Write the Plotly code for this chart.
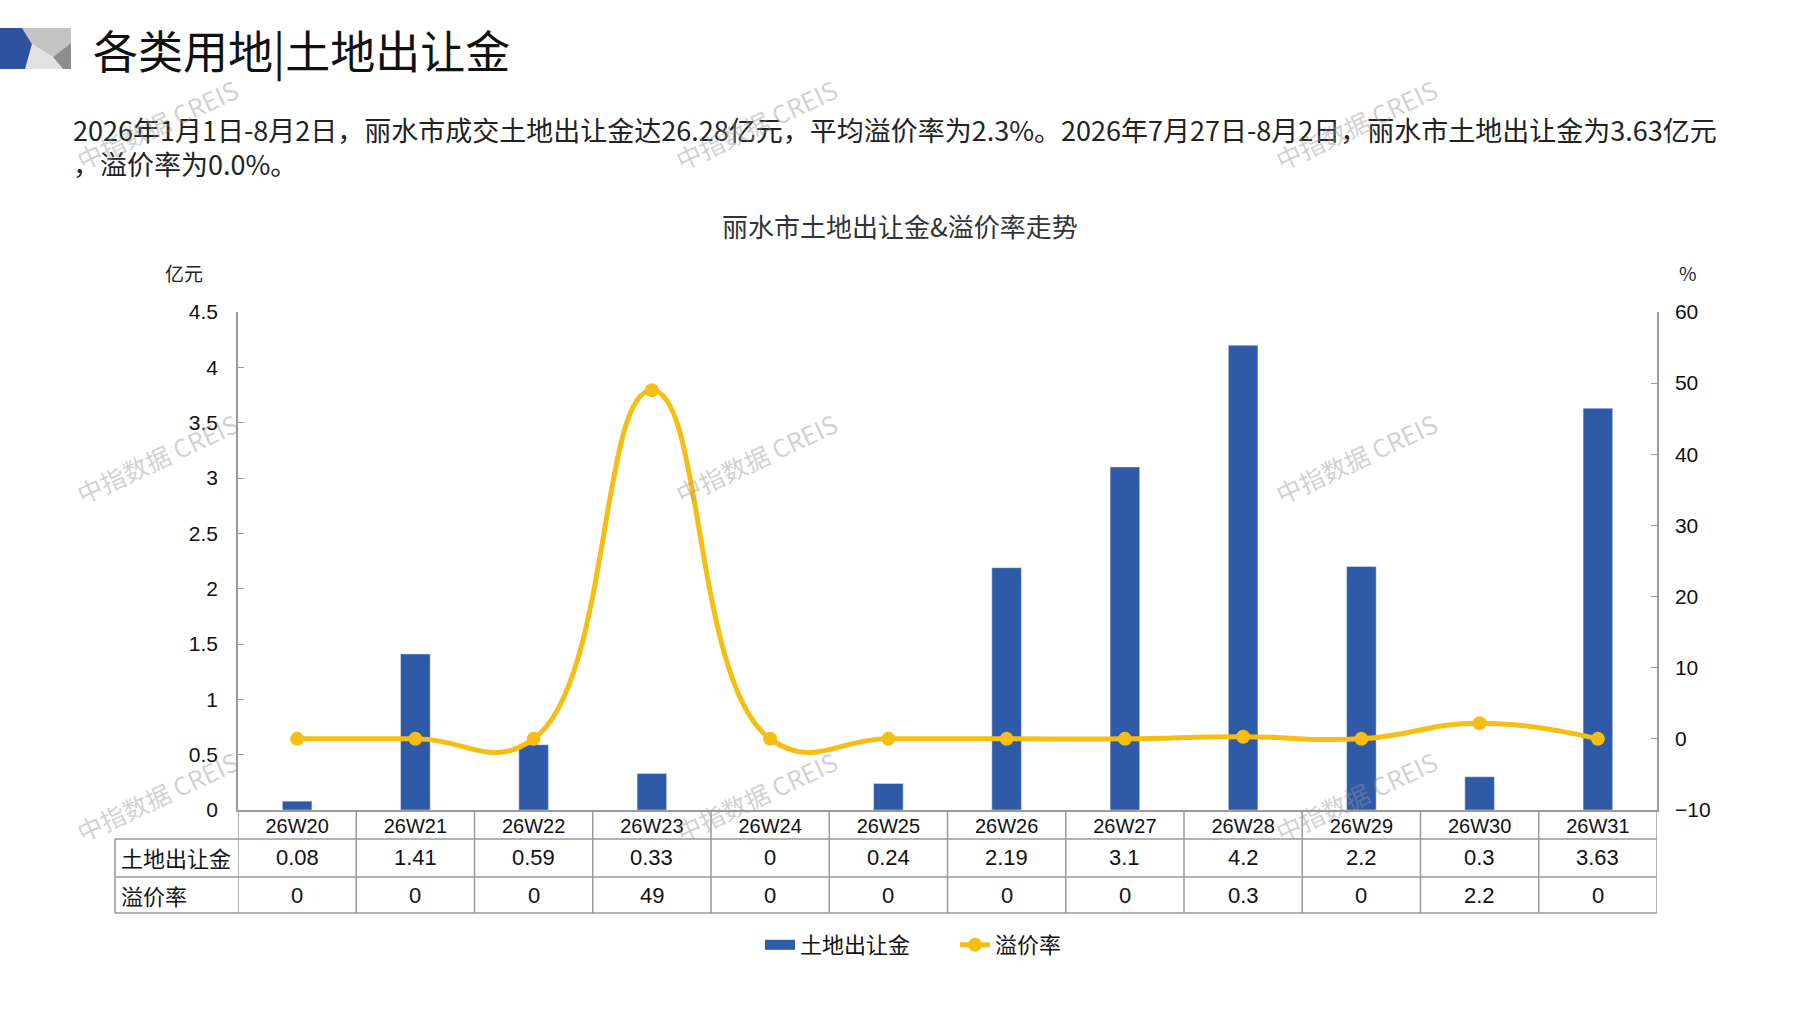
import plotly.graph_objects as go

# data
weeks = ['26W20', '26W21', '26W22', '26W23', '26W24', '26W25',
         '26W26', '26W27', '26W28', '26W29', '26W30', '26W31']
land_fee = [0.08, 1.41, 0.59, 0.33, 0, 0.24, 2.19, 3.1, 4.2, 2.2, 0.3, 3.63]
premium_rate = [0, 0, 0, 49, 0, 0, 0, 0, 0.3, 0, 2.2, 0]
fee_label = '土地出让金'
rate_label = '溢价率'

page_title = '各类用地|土地出让金'
summary_lines = ['2026年1月1日-8月2日，丽水市成交土地出让金达26.28亿元，平均溢价率为2.3%。'
                 '2026年7月27日-8月2日，丽水市土地出让金为3.63亿元',
                 '，溢价率为0.0%。']
chart_title = '丽水市土地出让金&溢价率走势'
watermark = '中指数据 CREIS'

BLUE = '#2E5AA8'
GOLD = '#F6BE12'
GRID = '#9A9A9A'
CJK = 'Noto Sans CJK SC'
NUM = 'Liberation Sans'

W, H = 1797, 1010
L, R, T, B = 238, 1657, 312, 810     # plot area in reference pixels


def px(x, y):
    """reference pixel position -> paper coords"""
    return (x - L) / (R - L), (B - y) / (B - T)


fig = go.Figure()

fig.add_trace(go.Bar(
    x=weeks, y=land_fee, name=fee_label, showlegend=False,
    marker=dict(color=BLUE), width=0.25, yaxis='y'
))
# legend-only entry so the key looks like a wide bar
fig.add_trace(go.Scatter(
    x=[None], y=[None], name=fee_label, mode='lines',
    line=dict(color=BLUE, width=11), yaxis='y'
))
fig.add_trace(go.Scatter(
    x=weeks, y=premium_rate, name=rate_label, yaxis='y2',
    mode='lines+markers',
    line=dict(color=GOLD, width=5, shape='spline', smoothing=1.3),
    marker=dict(color=GOLD, size=14)
))

shapes = []
annotations = []

# table rows (pixel y of row borders)
row_lines = [839, 877, 913]
row_text_y = [857, 895]
tbl_left = px(115, 0)[0]
y_bottom = px(0, row_lines[-1])[1]

for y in row_lines:
    shapes.append(dict(type='line', xref='paper', yref='paper',
                       x0=tbl_left, x1=1, y0=px(0, y)[1], y1=px(0, y)[1],
                       line=dict(color=GRID, width=1.5)))
shapes.append(dict(type='line', xref='paper', yref='paper',
                   x0=tbl_left, x1=tbl_left, y0=px(0, row_lines[0])[1], y1=y_bottom,
                   line=dict(color=GRID, width=1.5)))
for i in range(len(weeks) + 1):
    shapes.append(dict(type='line', xref='x', yref='paper',
                       x0=i - 0.5, x1=i - 0.5, y0=0, y1=y_bottom,
                       line=dict(color=GRID, width=1.5)))

for row_name, vals, ty in [(fee_label, land_fee, row_text_y[0]),
                           (rate_label, premium_rate, row_text_y[1])]:
    yy = px(0, ty)[1]
    annotations.append(dict(text=row_name, xref='paper', yref='paper',
                            x=px(119, 0)[0], y=yy, xanchor='left', yanchor='middle',
                            showarrow=False, font=dict(family=CJK, size=22, color='#111')))
    for w, v in zip(weeks, vals):
        annotations.append(dict(text=f'{v:g}', xref='x', yref='paper', x=w, y=yy,
                                xanchor='center', yanchor='middle', showarrow=False,
                                font=dict(family=NUM, size=22, color='#111')))

# header decoration
def poly(points, color):
    pts = [px(*p) for p in points]
    path = 'M ' + ' L '.join(f'{a:.4f},{b:.4f}' for a, b in pts) + ' Z'
    return dict(type='path', xref='paper', yref='paper', path=path,
                fillcolor=color, line=dict(width=0), layer='above')

shapes.append(poly([(22, 28), (71, 28), (71, 43), (53, 57), (32, 44)], '#C4C4C4'))
shapes.append(poly([(32, 44), (53, 57), (63, 69), (25, 69)], '#E2E2E2'))
shapes.append(poly([(53, 57), (71, 43), (71, 69), (63, 69)], '#8E8E8E'))
shapes.append(poly([(-2, 28), (22, 28), (32, 44), (25, 69), (-2, 69)], '#2F52A0'))

hx, hy = px(91, 49)
annotations.append(dict(text=page_title, xref='paper', yref='paper', x=hx, y=hy,
                        xanchor='left', yanchor='middle', showarrow=False,
                        font=dict(family=CJK, size=45, color='#111')))
for line, ly in zip(summary_lines, [129, 163]):
    sx, sy = px(71, ly)
    annotations.append(dict(text=line, xref='paper', yref='paper', x=sx, y=sy,
                            xanchor='left', yanchor='middle', showarrow=False,
                            font=dict(family=CJK, size=27, color='#222')))
tx, ty = px(900, 225)
annotations.append(dict(text=chart_title, xref='paper', yref='paper', x=tx, y=ty,
                        xanchor='center', yanchor='middle', showarrow=False,
                        font=dict(family=CJK, size=26, color='#333')))
ux, uy = px(184, 273)
annotations.append(dict(text='亿元', xref='paper', yref='paper', x=ux, y=uy,
                        xanchor='center', yanchor='middle', showarrow=False,
                        font=dict(family=CJK, size=19, color='#222')))
ux, uy = px(1688, 273)
annotations.append(dict(text='%', xref='paper', yref='paper', x=ux, y=uy,
                        xanchor='center', yanchor='middle', showarrow=False,
                        font=dict(family=CJK, size=19, color='#222')))

# watermarks
for wy in [124, 458, 796]:
    for wx in [157, 756, 1356]:
        ax, ay = px(wx, wy)
        annotations.append(dict(text=watermark, xref='paper', yref='paper', x=ax, y=ay,
                                xanchor='center', yanchor='middle', showarrow=False,
                                textangle=-25,
                                font=dict(family=CJK, size=25, color='rgba(150,150,150,0.45)')))

fig.update_layout(
    width=W, height=H,
    margin=dict(l=L, r=W - R, t=T, b=H - B, pad=0),
    plot_bgcolor='white', paper_bgcolor='white',
    showlegend=True,
    legend=dict(orientation='h', x=px(760, 0)[0], xanchor='left',
                y=px(0, 945)[1], yanchor='middle', entrywidth=150,
                font=dict(family=CJK, size=22, color='#111'),
                traceorder='normal'),
    xaxis=dict(type='category', categoryorder='array', categoryarray=weeks,
               range=[-0.5, len(weeks) - 0.5], showline=True, linecolor=GRID,
               linewidth=1.5, ticks='', showgrid=False, zeroline=False,
               ticklabelstandoff=-3,
               tickfont=dict(family=NUM, size=20, color='#111')),
    yaxis=dict(range=[0, 4.5], dtick=0.5, showline=True, linecolor=GRID, linewidth=1.5,
               ticks='inside', ticklen=6, tickcolor=GRID, showgrid=False, zeroline=False,
               ticklabelstandoff=14,
               tickfont=dict(family=NUM, size=21, color='#111')),
    yaxis2=dict(range=[-10, 60], dtick=10, overlaying='y', side='right', showline=True,
                linecolor=GRID, linewidth=1.5, ticks='inside', ticklen=6, tickcolor=GRID,
                showgrid=False, zeroline=False, ticklabelstandoff=12,
                tickfont=dict(family=NUM, size=21, color='#111')),
    shapes=shapes,
    annotations=annotations,
)

# drop the default page margin so the figure sits at the window corner
fig.write_html('out.html', config={'displayModeBar': False},
               post_script="document.body.style.margin='0px';")
